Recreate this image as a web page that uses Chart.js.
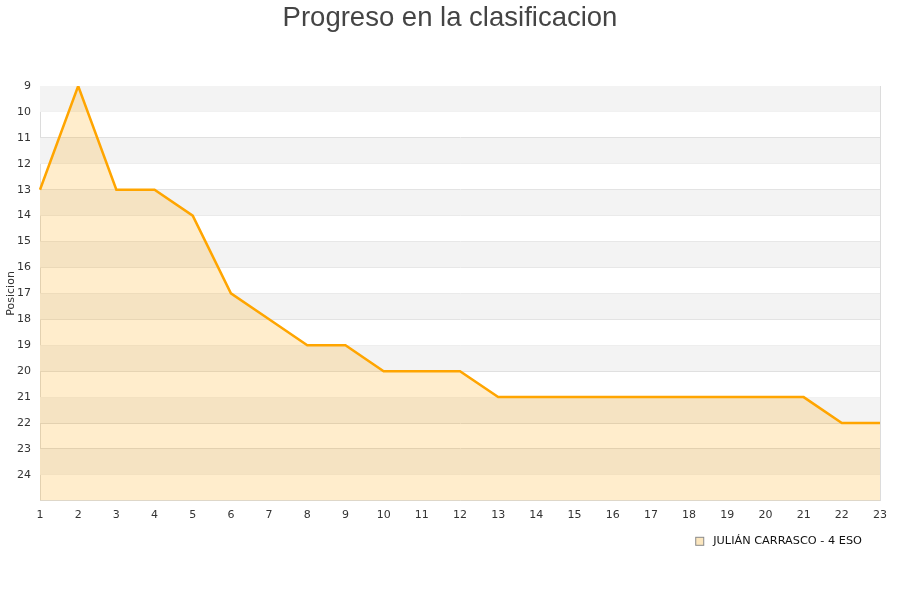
<!DOCTYPE html>
<html><head><meta charset="utf-8">
<script src="https://cdn.jsdelivr.net/npm/chart.js@4.4.0/dist/chart.umd.min.js"></script>
<style>html,body{margin:0;padding:0;background:#fff}#wrap{width:900px;height:600px}</style>
</head><body><div id="wrap"><canvas id="c" width="900" height="600"></canvas></div>
<script>
const jornadas = ['1','2','3','4','5','6','7','8','9','10','11','12','13','14','15','16','17','18','19','20','21','22','23'];
const posiciones = [13,9,13,13,14,17,18,19,19,20,20,20,21,21,21,21,21,21,21,21,21,22,22];
const seriesName = 'JULIÁN CARRASCO - 4 ESO';
const titleText = 'Progreso en la clasificacion';
const yTitle = 'Posicion';
const yMin = 9, yMax = 25;

const bands = {
  id: 'bands',
  beforeDatasetsDraw(chart) {
    const {ctx, chartArea, scales: {y}} = chart;
    ctx.save();
    ctx.fillStyle = '#f3f3f3';
    for (let v = yMin; v < yMax; v += 2) {
      const a = y.getPixelForValue(v), b = y.getPixelForValue(v + 1);
      ctx.fillRect(chartArea.left, Math.min(a,b), chartArea.right - chartArea.left, Math.abs(b - a));
    }
    ctx.restore();
  },
  afterDatasetsDraw(chart) {
    const {ctx, chartArea} = chart;
    ctx.save();
    ctx.strokeStyle = '#dcdcdc';
    ctx.lineWidth = 1;
    ctx.beginPath();
    ctx.moveTo(Math.round(chartArea.right) + 0.5, chartArea.top);
    ctx.lineTo(Math.round(chartArea.right) + 0.5, chartArea.bottom);
    ctx.stroke();
    ctx.restore();
  },
  afterDraw(chart) {
    const {ctx, chartArea, width} = chart;
    const ds = chart.data.datasets[0];
    ctx.save();
    // title
    ctx.font = '27.5px "Liberation Sans"';
    ctx.fillStyle = '#444';
    ctx.textAlign = 'center';
    ctx.textBaseline = 'alphabetic';
    ctx.fillText(titleText, width / 2, 26);
    // legend
    ctx.textAlign = 'left';
    ctx.font = '11.3px "DejaVu Sans"';
    ctx.textBaseline = 'middle';
    ctx.fillStyle = '#111';
    const w = ctx.measureText(ds.label).width;
    const tx = chartArea.right - 18 - w;
    const ty = chartArea.bottom + 40;
    ctx.fillText(ds.label, tx, ty);
    ctx.fillStyle = '#fbe6be';
    ctx.strokeStyle = '#8a8a8a';
    ctx.lineWidth = 1;
    ctx.fillRect(tx - 17.5, ty - 3.5, 8, 8);
    ctx.strokeRect(tx - 17.5, ty - 3.5, 8, 8);
    ctx.restore();
  }
};

new Chart(document.getElementById('c'), {
  type: 'line',
  data: {
    labels: jornadas,
    datasets: [{
      label: seriesName,
      data: posiciones,
      borderColor: '#ffa500',
      backgroundColor: 'rgba(255,165,0,0.2)',
      borderWidth: 2.5,
      pointRadius: 0,
      tension: 0,
      fill: {value: yMax}
    }]
  },
  options: {
    responsive: false,
    animation: false,
    layout: {padding: {left: 0, right: 20, top: 86, bottom: 70}},
    plugins: {
      title: {display: false},
      legend: {display: false},
      tooltip: {enabled: false}
    },
    scales: {
      x: {
        offset: false,
        grid: {display: false, drawTicks: false},
        border: {display: true, color: '#dcdcdc'},
        ticks: {color: '#333', font: {family: 'DejaVu Sans', size: 11}, padding: 8, maxRotation: 0, autoSkip: false}
      },
      y: {
        reverse: true, min: yMin, max: yMax,
        afterFit(s) { s.width = 40; },
        grid: {color: '#dcdcdc', drawTicks: false},
        border: {display: true, color: '#dcdcdc'},
        title: {display: true, text: yTitle, color: '#333', font: {family: 'DejaVu Sans', size: 11}, padding: {top: 5, bottom: 0}},
        ticks: {
          stepSize: 1, color: '#333', font: {family: 'DejaVu Sans', size: 11}, padding: 9,
          callback: v => (v === yMax ? '' : v)
        }
      }
    }
  },
  plugins: [bands]
});
</script></body></html>
